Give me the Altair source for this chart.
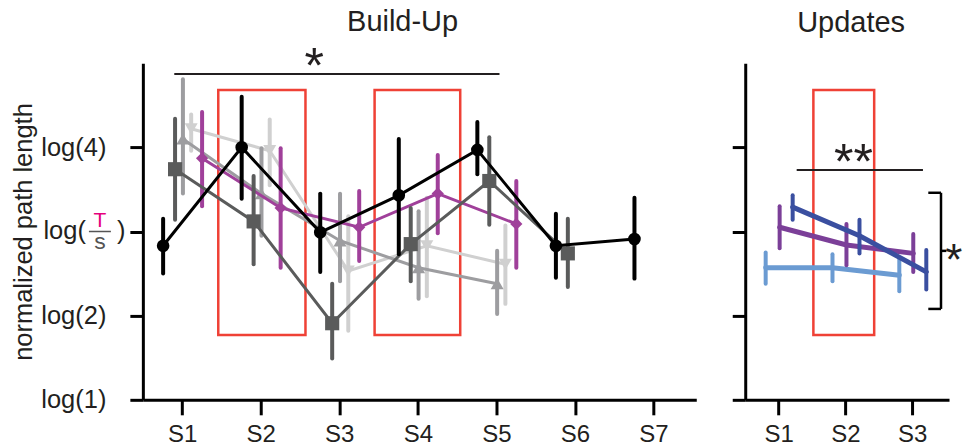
import altair as alt
import pandas as pd

# ---------------- data ----------------
stages_left = ["S1", "S2", "S3", "S4", "S5", "S6", "S7"]
stages_right = ["S1", "S2", "S3"]

ytick_values = [0, 1, 2, 3]
ytick_labels = ["log(1)", "log(2)", "", "log(4)"]
frac_value = 2  # position of log(T/S)

# Build-Up: five groups (mean, lower, upper)
g1_mean = [1.83, 3.00, 1.99, 2.43, 2.97, 1.83, 1.91]
g1_lo = [1.50, 2.39, 1.52, 1.73, 2.68, 1.45, 1.44]
g1_hi = [2.15, 3.60, 2.45, 3.10, 3.30, 2.21, 2.40]

g2_mean = [2.74, 2.12, 0.91, 1.85, 2.60, 1.74]
g2_lo = [2.14, 1.61, 0.49, 1.41, 2.08, 1.34]
g2_hi = [3.34, 2.66, 1.38, 2.28, 3.12, 2.15]

g3_mean = [3.10, 2.45, 1.89, 1.57, 1.38]
g3_lo = [2.45, 1.95, 1.41, 1.20, 1.02]
g3_hi = [3.81, 2.99, 2.45, 2.24, 1.77]

g4_mean = [3.22, 2.96, 1.53, 1.83, 1.61]
g4_lo = [2.96, 2.55, 0.82, 1.23, 1.14]
g4_hi = [3.39, 3.33, 2.18, 2.40, 2.07]

g5_mean = [2.87, 2.28, 2.05, 2.45, 2.09]
g5_lo = [2.30, 1.57, 1.65, 1.98, 1.57]
g5_hi = [3.42, 2.99, 2.48, 2.91, 2.60]

# Updates: three groups
u1_mean = [1.57, 1.57, 1.48]
u1_lo = [1.38, 1.41, 1.29]
u1_hi = [1.75, 1.73, 1.68]

u2_mean = [2.05, 1.84, 1.74]
u2_lo = [1.80, 1.60, 1.52]
u2_hi = [2.30, 2.09, 1.97]

u3_mean = [2.29, 1.95, 1.52]
u3_lo = [2.14, 1.74, 1.31]
u3_hi = [2.43, 2.14, 1.78]

# highlighted stage boxes (stage units / y units)
box_left_x = [1.46, 3.45]
box_left_x2 = [2.57, 4.54]
box_right_x = [1.52]
box_right_x2 = [2.43]
box_y = 3.68
box_y2 = 0.77

# significance annotations
sig_left = {"x": 0.90, "x2": 5.04, "y": 3.87, "tx": 2.68, "ty": 4.0, "text": "*"}
sig_right = {"x": 1.27, "x2": 3.16, "y": 2.73, "tx": 2.12, "ty": 2.86, "text": "**"}
bracket_x = 3.43
bracket_xin = 3.24
bracket_xout = 3.51
bracket_top = 2.46
bracket_bot = 1.08
bracket_star_x = 3.62

# ---------------- styles ----------------
FONT = "Liberation Sans"
TXT = "#231f20"
RED = "#ef4136"

left_groups = [
    # name, means, lo, hi, color, shape, size, dodge
    ("light", g4_mean, g4_lo, g4_hi, "#d0d0d0", "triangle-down", 170, 0.115),
    ("mid", g3_mean, g3_lo, g3_hi, "#9d9da0", "triangle-up", 170, 0.01),
    ("purple", g5_mean, g5_lo, g5_hi, "#a0409a", "diamond", 150, 0.254),
    ("dark", g2_mean, g2_lo, g2_hi, "#5a5b5b", "square", 200, -0.09),
    ("black", g1_mean, g1_lo, g1_hi, "#000000", "circle", 160, -0.242),
]
right_groups = [
    ("lightblue", u1_mean, u1_lo, u1_hi, "#6b9bd2", -0.194),
    ("purple2", u2_mean, u2_lo, u2_hi, "#7b3f98", 0.015),
    ("darkblue", u3_mean, u3_lo, u3_hi, "#3a4fa0", 0.21),
]


def make_df(means, lo, hi, dodge):
    n = len(means)
    return pd.DataFrame({
        "stage": list(range(1, n + 1)),
        "x": [i + 1 + dodge for i in range(n)],
        "m": means, "lo": lo, "hi": hi,
    })


ylab_expr = " : ".join(
    f"datum.value == {v} ? '{l}'" for v, l in zip(ytick_values, ytick_labels)
) + " : ''"


def x_axis(stages):
    arr = "[" + ",".join(f"'{s}'" for s in stages) + "]"
    return alt.Axis(values=list(range(1, len(stages) + 1)), labelExpr=f"{arr}[datum.value - 1]",
                    title=None, grid=False, tickSize=15, tickWidth=3, domainWidth=3,
                    domainColor="black", tickColor="black", labelFontSize=24, labelColor=TXT,
                    labelFont=FONT, labelPadding=8, labelFlush=False)


y_scale = alt.Scale(domain=[0, 4], nice=False, zero=False)
y_axis_left = alt.Axis(values=ytick_values, labelExpr=ylab_expr, grid=False, tickSize=13, tickWidth=3,
                       domainWidth=3, domainColor="black", tickColor="black", labelFontSize=25.5,
                       labelColor=TXT, labelFont=FONT, labelPadding=24, title="normalized path length",
                       titleFontSize=25.5, titleFontWeight="normal", titleColor=TXT, titleFont=FONT,
                       titlePadding=4)
y_axis_right = alt.Axis(values=ytick_values, labels=False, grid=False, tickSize=13, tickWidth=3,
                        domainWidth=3, domainColor="black", tickColor="black", title=None)


def build_panel(groups, stages, xdomain, yaxis, boxes, sig, kind):
    xs = alt.Scale(domain=xdomain, nice=False, zero=False)
    X = lambda f: alt.X(f, scale=xs, axis=x_axis(stages))
    Y = lambda f: alt.Y(f, scale=y_scale, axis=yaxis)
    layers = []
    # boxes
    bdf = pd.DataFrame({"x": boxes[0], "x2": boxes[1], "y": [box_y] * len(boxes[0]), "y2": [box_y2] * len(boxes[0])})
    layers.append(alt.Chart(bdf).mark_rect(fill=None, filled=False, stroke=RED, strokeWidth=2.5)
                  .encode(x=X("x:Q"), x2="x2:Q", y=Y("y:Q"), y2="y2:Q"))
    # significance line
    sdf = pd.DataFrame([sig])
    layers.append(alt.Chart(sdf).mark_rule(color=TXT, strokeWidth=2).encode(x=X("x:Q"), x2="x2:Q", y=Y("y:Q")))
    layers.append(alt.Chart(sdf).mark_text(fontSize=50, font=FONT, color=TXT, baseline="middle", dy=5)
                  .encode(x=X("tx:Q"), y=Y("ty:Q"), text="text:N"))
    for g in groups:
        if kind == "left":
            name, m, lo, hi, col, shape, size, dodge = g
            lw, bw = 3, 4
        else:
            name, m, lo, hi, col, dodge = g
            lw, bw = 5, 4
        df = make_df(m, lo, hi, dodge)
        base = alt.Chart(df)
        layers.append(base.mark_line(color=col, strokeWidth=lw, strokeCap="round")
                      .encode(x=X("x:Q"), y=Y("m:Q")))
        layers.append(base.mark_rule(color=col, strokeWidth=bw, strokeCap="round")
                      .encode(x=X("x:Q"), y=Y("lo:Q"), y2="hi:Q"))
        if kind == "left":
            layers.append(base.mark_point(shape=shape, filled=True, size=size, color=col, opacity=1)
                          .encode(x=X("x:Q"), y=Y("m:Q")))
    return layers, X, Y


# ---------- left panel ----------
left_layers, LX, LY = build_panel(left_groups, stages_left, [0.5, 7.545], y_axis_left,
                                  (box_left_x, box_left_x2), sig_left, "left")
fdf = pd.DataFrame({"y": [frac_value]})
left_layers.append(alt.Chart(fdf).mark_text(text="log(", fontSize=25.5, font=FONT, color=TXT, align="right",
                                            baseline="middle", dx=-57)
                   .encode(x=alt.value(0), y=LY("y:Q")))
left_layers.append(alt.Chart(fdf).mark_text(text=")", fontSize=25.5, font=FONT, color=TXT, align="left",
                                            baseline="middle", dx=-26)
                   .encode(x=alt.value(0), y=LY("y:Q")))
left_layers.append(alt.Chart(fdf).mark_text(text="T", fontSize=21, font=FONT, color="#e5007d", align="center",
                                            baseline="middle", dx=-43, dy=-11)
                   .encode(x=alt.value(0), y=LY("y:Q")))
left_layers.append(alt.Chart(fdf).mark_text(text="s", fontSize=23, font=FONT, color="#555555", align="center",
                                            baseline="middle", dx=-43, dy=11)
                   .encode(x=alt.value(0), y=LY("y:Q")))
left_layers.append(alt.Chart(fdf).mark_rule(color="#555555", strokeWidth=1.5)
                   .encode(x=alt.value(-54), x2=alt.value(-32), y=LY("y:Q")))

left = alt.layer(*left_layers).properties(
    width=554, height=337,
    title=alt.TitleParams("Build-Up", fontSize=29, fontWeight="normal", font=FONT, color=TXT,
                          dx=-17, offset=-17, baseline="alphabetic", frame="group"))

# ---------- right panel ----------
right_layers, RX, RY = build_panel(right_groups, stages_right, [0.5, 3.55], y_axis_right,
                                   (box_right_x, box_right_x2), sig_right, "right")
brdf = pd.DataFrame({
    "x": [bracket_x, bracket_xin, bracket_xin, bracket_x],
    "x2": [bracket_x, bracket_x, bracket_x, bracket_xout],
    "y": [bracket_bot, bracket_top, bracket_bot, (bracket_top + bracket_bot) / 2],
    "y2": [bracket_top, bracket_top, bracket_bot, (bracket_top + bracket_bot) / 2],
})
right_layers.append(alt.Chart(brdf).mark_rule(color="black", strokeWidth=2.5)
                    .encode(x=RX("x:Q"), x2="x2:Q", y=RY("y:Q"), y2="y2:Q"))
stdf = pd.DataFrame({"x": [bracket_star_x], "y": [(bracket_top + bracket_bot) / 2], "t": ["*"]})
right_layers.append(alt.Chart(stdf).mark_text(fontSize=44, font=FONT, color=TXT, baseline="middle", dy=11)
                    .encode(x=RX("x:Q"), y=RY("y:Q"), text="t:N"))

right = alt.layer(*right_layers).properties(
    width=204, height=337,
    title=alt.TitleParams("Updates", fontSize=29, fontWeight="normal", font=FONT, color=TXT,
                          dx=4, offset=2, baseline="alphabetic", frame="group"))

chart = alt.hconcat(left, right, spacing=34).properties(
    padding={"left": 3, "top": 0, "right": 0, "bottom": 0}
).configure(font=FONT).configure_view(strokeWidth=0, stroke=None)

chart.save("out.html", embed_options={"renderer": "svg", "actions": False})
